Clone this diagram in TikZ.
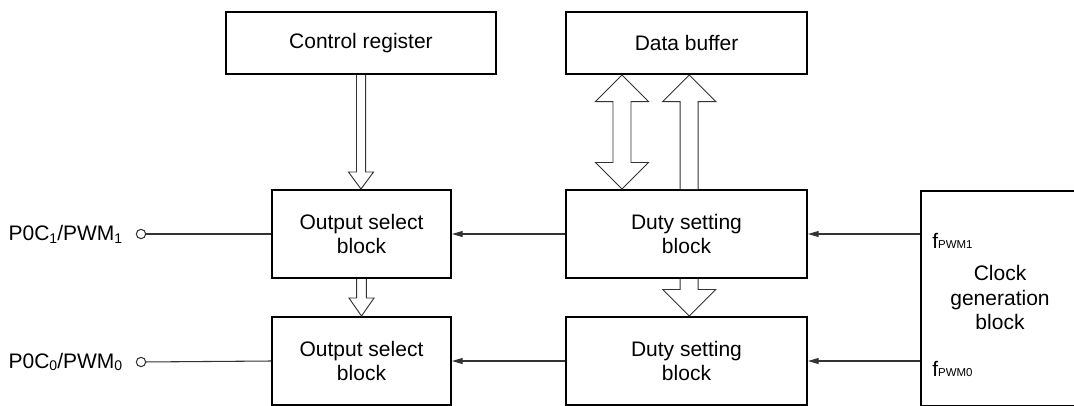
\documentclass[tikz,border=0pt]{standalone}
\usepackage{fontspec}
\setmainfont{Liberation Sans}
\usepackage{xcolor}
\usepackage{tikz}
\usetikzlibrary{
  arrows.meta, positioning, calc
}
\definecolor{C_LINE}{HTML}{333333}
\definecolor{C_EDGE}{HTML}{000000}
\newcommand{\lowsub}[1]{\raisebox{-0.25ex}{\fontsize{10.5}{10.5}\selectfont #1}}
\newcommand{\smallsub}[1]{{\fontsize{8.6}{8.6}\selectfont #1}}
\tikzset{
  %% -- functional block --
  blk/box/.style={
    draw=C_EDGE, line width=1.5pt, fill=white,
    minimum height=66pt, align=center, inner sep=2pt,
    font=\fontsize{15.75}{18.5}\selectfont
  },
  %% -- register / buffer --
  blk/reg/.style={blk/box, minimum height=46.5pt},
  %% -- signal line with arrow --
  blk/sig/.style={-{Triangle[length=8pt,width=4.5pt]}, line width=0.8pt, C_LINE},
  %% -- plain wire --
  blk/wire/.style={line width=0.8pt, C_LINE},
  %% -- pin circle --
  blk/pin/.style={draw=C_LINE, circle, line width=0.8pt, minimum size=7pt, inner sep=0pt},
  %% -- text label --
  blk/lbl/.style={inner sep=0pt, font=\fontsize{15.75}{18.5}\selectfont},
  %% -- hollow bus arrow --
  blk/hollow/.style={draw=C_LINE, fill=white, line width=0.7pt, line join=miter},
}
%% hollow bus arrows: stem half, head half, head length, from, to
\newcommand{\fatdown}[5]{%
  \draw[blk/hollow] let \p1=(#4), \p2=(#5) in
    (\x1-#1,\y1) -- (\x1-#1,\y2+#3) -- (\x1-#2,\y2+#3) -- (\x1,\y2)
    -- (\x1+#2,\y2+#3) -- (\x1+#1,\y2+#3) -- (\x1+#1,\y1);}
\newcommand{\fatup}[5]{%
  \draw[blk/hollow] let \p1=(#4), \p2=(#5) in
    (\x1-#1,\y1) -- (\x1-#1,\y2-#3) -- (\x1-#2,\y2-#3) -- (\x1,\y2)
    -- (\x1+#2,\y2-#3) -- (\x1+#1,\y2-#3) -- (\x1+#1,\y1);}
\newcommand{\fatboth}[5]{%
  \draw[blk/hollow] let \p1=(#4), \p2=(#5) in
    (\x1,\y1) -- (\x1+#2,\y1-#3) -- (\x1+#1,\y1-#3) -- (\x1+#1,\y2+#3)
    -- (\x1+#2,\y2+#3) -- (\x1,\y2) -- (\x1-#2,\y2+#3) -- (\x1-#1,\y2+#3)
    -- (\x1-#1,\y1-#3) -- (\x1-#2,\y1-#3) -- cycle;}

\begin{document}
\begin{tikzpicture}[
  x=0.75pt, y=-0.75pt,
]
\useasboundingbox (0,0) rectangle (1074,405);
\clip (0,0) rectangle (1074,405);

%% Nodes
\node[blk/reg, minimum width=202.5pt] (ctrl) at (361, 43)    {Control register};
\node[blk/reg, minimum width=180.75pt] (dbuf) at (686.5, 43) {Data buffer};
\node[blk/box, minimum width=134.25pt] (osel1) at (361.5, 234) {Output select\\block};
\node[blk/box, minimum width=180.75pt] (duty1) at (686.5, 234) {Duty setting\\block};
\node[blk/box, minimum width=134.25pt] (osel0) at (361.5, 361) {Output select\\block};
\node[blk/box, minimum width=180.75pt] (duty0) at (686.5, 361) {Duty setting\\block};
\node[blk/box, minimum width=150pt, minimum height=161.25pt, anchor=north west]
  (clk) at (920, 190) {};
\node[blk/lbl, align=center] (clkname) at (1000, 297.5) {Clock\\generation\\block};

%% Clock outputs
\node[blk/lbl, anchor=west] (fp1) at (932, 241) {f\smallsub{PWM1}};
\node[blk/lbl, anchor=west] (fp0) at (932, 369) {f\smallsub{PWM0}};

%% Pins
\node[blk/pin] (pin1) at (141, 234) {};
\node[blk/pin] (pin0) at (141, 362) {};
\node[blk/lbl, left=10pt of pin1] (pname1) {P0C\lowsub{1}/PWM\lowsub{1}};
\node[blk/lbl, left=10pt of pin0] (pname0) {P0C\lowsub{0}/PWM\lowsub{0}};

%% Signal paths
\draw[blk/sig] (duty1.east -| clk.west) -- (duty1.east);
\draw[blk/sig] (duty0.east -| clk.west) -- (duty0.east);
\draw[blk/sig] (duty1.west) -- (osel1.east);
\draw[blk/sig] (duty0.west) -- (osel0.east);
\draw[blk/wire] (pin1) -- (osel1.west);
\draw[blk/wire] (pin0) -- (osel0.west);

%% Bus arrows
\fatdown{3.4pt}{9.4pt}{12.75pt}{ctrl.south}{osel1.north}
\fatdown{3.6pt}{9.4pt}{13.5pt}{osel1.south}{osel0.north}
\fatdown{6.75pt}{19.9pt}{19.9pt}{[xshift=2pt]duty1.south}{[xshift=2pt]duty0.north}
\fatboth{6.75pt}{19.9pt}{19.9pt}{[xshift=-48.4pt]dbuf.south}{[xshift=-48.4pt]duty1.north}
\fatup{6.75pt}{19.9pt}{19.9pt}{[xshift=2pt]duty1.north}{[xshift=2pt]dbuf.south}
\end{tikzpicture}
\end{document}
